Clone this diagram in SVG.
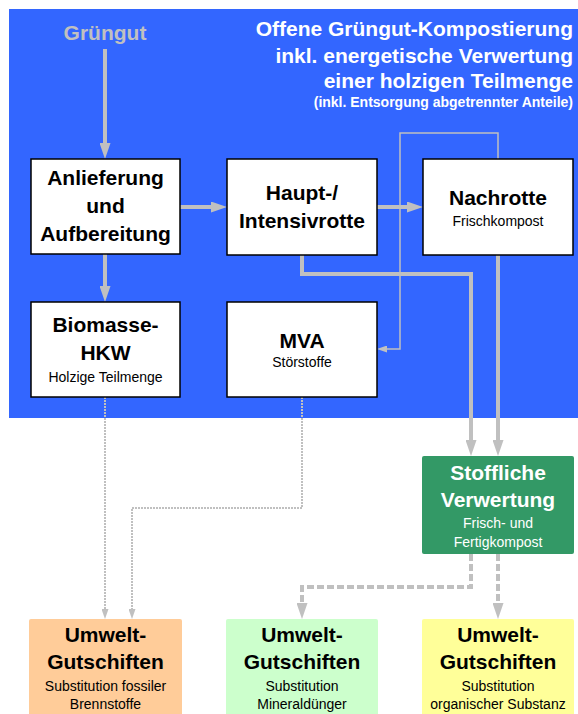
<svg xmlns="http://www.w3.org/2000/svg" width="578" height="714" viewBox="0 0 578 714">
  <style>
    text { font-family: "Liberation Sans", Arial, sans-serif; text-anchor: middle; }
    .big { font-size: 21px; font-weight: bold; fill: #000; }
    .small { font-size: 14px; fill: #000; }
    .white { fill: #fff; }
    .box { fill: #fff; stroke: #000; stroke-width: 1.5; }
    .flow { fill: none; stroke: #C0C0C0; stroke-width: 4; }
    .thin { fill: none; stroke: #C0C0C0; stroke-width: 1.5; }
    .dotted { fill: none; stroke: #C0C0C0; stroke-width: 2; stroke-dasharray: 2 1; }
    .dashed { fill: none; stroke: #C0C0C0; stroke-width: 4; stroke-dasharray: 7 3; }
  </style>
  <defs>
    <marker id="arrowBig" markerUnits="userSpaceOnUse" markerWidth="16" markerHeight="11" refX="6" refY="5.5" orient="auto">
      <path d="M0,0 L16,5.5 L0,11 z" fill="#C0C0C0"/>
    </marker>
    <marker id="arrowSmall" markerUnits="userSpaceOnUse" markerWidth="10" markerHeight="7" refX="5" refY="3.5" orient="auto">
      <path d="M0,0 L10,3.5 L0,7 z" fill="#C0C0C0"/>
    </marker>
  </defs>

  <!-- system boundary -->
  <rect id="system" x="9" y="9" width="569" height="409" fill="#3366FF"/>

  <g id="title">
    <text class="white" x="573" y="36" style="font-size:21px;font-weight:bold;text-anchor:end">Offene Grüngut-Kompostierung</text>
    <text class="white" x="573" y="63" style="font-size:21px;font-weight:bold;text-anchor:end">inkl. energetische Verwertung</text>
    <text class="white" x="573" y="88" style="font-size:21px;font-weight:bold;text-anchor:end">einer holzigen Teilmenge</text>
    <text class="white" x="573" y="107" style="font-size:14px;font-weight:bold;text-anchor:end">(inkl. Entsorgung abgetrennter Anteile)</text>
  </g>

  <g id="gruengut">
    <text x="105" y="40" style="font-size:21px;font-weight:bold;fill:#C0C0C0">Grüngut</text>
  </g>

  <!-- connectors -->
  <g id="connectors">
    <path class="flow" d="M105,49 V149" marker-end="url(#arrowBig)"/>
    <path class="flow" d="M180,207 H217" marker-end="url(#arrowBig)"/>
    <path class="flow" d="M105,254 V292" marker-end="url(#arrowBig)"/>
    <path class="flow" d="M377,207 H413" marker-end="url(#arrowBig)"/>
    <path class="flow" d="M302,255 V274 H471 V446" marker-end="url(#arrowBig)"/>
    <path class="flow" d="M498,255 V446" marker-end="url(#arrowBig)"/>
    <path class="thin" d="M498,159 V133 H400 V349 H382" marker-end="url(#arrowSmall)"/>
    <path class="dotted" d="M105,397 V614" marker-end="url(#arrowSmall)"/>
    <path class="dotted" d="M302,397 V508 H132 V614" marker-end="url(#arrowSmall)"/>
    <path class="dashed" d="M471,554 V587 H302 V609" marker-end="url(#arrowBig)"/>
    <path class="dashed" d="M498,554 V609" marker-end="url(#arrowBig)"/>
  </g>

  <g id="anlieferung">
    <rect class="box" x="31" y="159" width="149" height="95"/>
    <text class="big" x="105.5" y="185">Anlieferung</text>
    <text class="big" x="105.5" y="213">und</text>
    <text class="big" x="105.5" y="241">Aufbereitung</text>
  </g>

  <g id="hauptrotte">
    <rect class="box" x="227" y="159" width="150" height="96"/>
    <text class="big" x="302" y="200">Haupt-/</text>
    <text class="big" x="302" y="228">Intensivrotte</text>
  </g>

  <g id="nachrotte">
    <rect class="box" x="423" y="159" width="150" height="96"/>
    <text class="big" x="498" y="205">Nachrotte</text>
    <text class="small" x="498" y="226">Frischkompost</text>
  </g>

  <g id="biomasse-hkw">
    <rect class="box" x="31" y="302" width="149" height="95"/>
    <text class="big" x="105.5" y="332">Biomasse-</text>
    <text class="big" x="105.5" y="360">HKW</text>
    <text class="small" x="105.5" y="382">Holzige Teilmenge</text>
  </g>

  <g id="mva">
    <rect class="box" x="227" y="302" width="150" height="95"/>
    <text class="big" x="302" y="348">MVA</text>
    <text class="small" x="302" y="367">Störstoffe</text>
  </g>

  <g id="stoffliche-verwertung">
    <rect x="422" y="456" width="152" height="98" rx="2" fill="#339966"/>
    <text class="big white" x="498" y="480">Stoffliche</text>
    <text class="big white" x="498" y="507">Verwertung</text>
    <text class="small white" x="498" y="528">Frisch- und</text>
    <text class="small white" x="498" y="547">Fertigkompost</text>
  </g>

  <g id="gutschrift-brennstoffe">
    <rect x="29" y="619" width="153" height="100" rx="2" fill="#FFCC99"/>
    <text class="big" x="105.5" y="642">Umwelt-</text>
    <text class="big" x="105.5" y="669">Gutschiften</text>
    <text class="small" x="105.5" y="691">Substitution fossiler</text>
    <text class="small" x="105.5" y="709">Brennstoffe</text>
  </g>

  <g id="gutschrift-mineralduenger">
    <rect x="226" y="619" width="152" height="100" rx="2" fill="#CCFFCC"/>
    <text class="big" x="302" y="642">Umwelt-</text>
    <text class="big" x="302" y="669">Gutschiften</text>
    <text class="small" x="302" y="691">Substitution</text>
    <text class="small" x="302" y="709">Mineraldünger</text>
  </g>

  <g id="gutschrift-organik">
    <rect x="422" y="619" width="152" height="100" rx="2" fill="#FFFF99"/>
    <text class="big" x="498" y="642">Umwelt-</text>
    <text class="big" x="498" y="669">Gutschiften</text>
    <text class="small" x="498" y="691">Substitution</text>
    <text class="small" x="498" y="709">organischer Substanz</text>
  </g>
</svg>
